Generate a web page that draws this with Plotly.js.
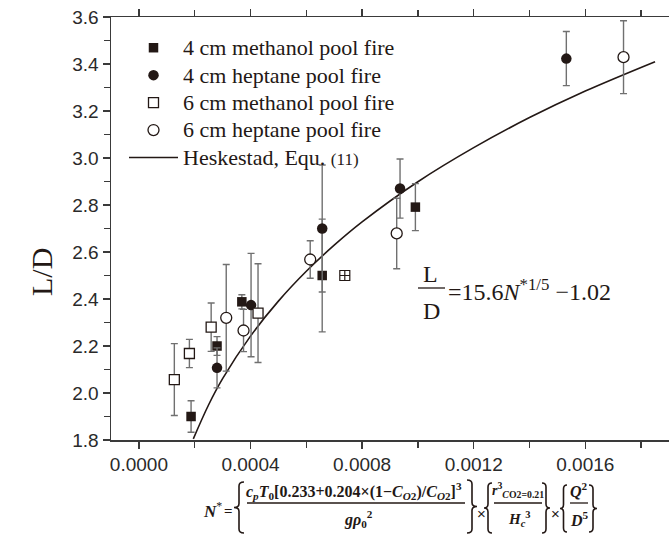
<!DOCTYPE html>
<html>
<head>
<meta charset="utf-8">
<script src="https://cdn.plot.ly/plotly-3.0.1.min.js"></script>
<style>html,body{margin:0;padding:0;background:#fff;}#chart{width:669px;height:534px;}</style>
</head>
<body>
<div id="chart"></div>
<script>
// ---- data ----
const m4X = [0.000187, 0.000280, 0.000369, 0.000657, 0.000991];
const m4Y = [1.900, 2.200, 2.388, 2.500, 2.791];
const m4E = [0.067, 0.040, 0.030, 0.240, 0.100];

const h4X = [0.000280, 0.000402, 0.000657, 0.000936, 0.001532];
const h4Y = [2.107, 2.374, 2.700, 2.870, 3.423];
const h4E = [0.085, 0.220, 0.270, 0.126, 0.115];

const m6X = [0.000127, 0.000181, 0.000259, 0.000427];
const m6Y = [2.057, 2.168, 2.280, 2.340];
const m6E = [0.153, 0.060, 0.103, 0.210];
const m6CrossX = [0.000738];
const m6CrossY = [2.500];

const h6X = [0.000313, 0.000375, 0.000614, 0.000924, 0.001737];
const h6Y = [2.320, 2.266, 2.568, 2.679, 3.429];
const h6E = [0.227, 0.090, 0.080, 0.150, 0.155];

const curveX = [0.000195, 0.00025, 0.0003, 0.0004, 0.0005, 0.0006, 0.0007, 0.0008, 0.0010, 0.0012, 0.0014, 0.0016, 0.00185];
const curveY = [1.805, 1.950, 2.061, 2.242, 2.391, 2.518, 2.629, 2.728, 2.899, 3.044, 3.172, 3.285, 3.410];

const xTickVals = [0, 0.0004, 0.0008, 0.0012, 0.0016];
const xTickText = ['0.0000', '0.0004', '0.0008', '0.0012', '0.0016'];
const yTickVals = [1.8, 2.0, 2.2, 2.4, 2.6, 2.8, 3.0, 3.2, 3.4, 3.6];
const yTickText = ['1.8', '2.0', '2.2', '2.4', '2.6', '2.8', '3.0', '3.2', '3.4', '3.6'];

const names = ['4 cm methanol pool fire', '4 cm heptane pool fire', '6 cm methanol pool fire', '6 cm heptane pool fire',
  'Heskestad, Equ. <span style="font-size:17px">(11)</span>'];

// ---- styling ----
const INK = '#231815';
const ERR = '#707070';
const L = 111, T = 17, PW = 558, PH = 423;
function PX(x) { return (x - L) / PW; }
function PY(y) { return (T + PH - y) / PH; }
function P(x, y) { return PX(x).toFixed(5) + ',' + PY(y).toFixed(5); }
function big(s) { return '<span style="font-size:22px">' + s + '</span>'; }

function errStyle(arr) {
  return {type: 'data', array: arr, visible: true, color: ERR, thickness: 1.4, width: 3.5};
}

const traces = [
  {x: curveX, y: curveY, mode: 'lines', name: big(names[4]), legendrank: 5,
   line: {color: INK, width: 1.6, shape: 'spline'}},
  {x: m4X, y: m4Y, mode: 'markers', name: big(names[0]), legendrank: 1, error_y: errStyle(m4E),
   marker: {symbol: 'square', size: 9.5, color: INK, line: {width: 0}}},
  {x: h4X, y: h4Y, mode: 'markers', name: big(names[1]), legendrank: 2, error_y: errStyle(h4E),
   marker: {symbol: 'circle', size: 10.5, color: INK, line: {width: 0}}},
  {x: m6X, y: m6Y, mode: 'markers', name: big(names[2]), legendrank: 3, legendgroup: 'm6', error_y: errStyle(m6E),
   marker: {symbol: 'square', size: 10, color: '#ffffff', line: {width: 1.3, color: INK}}},
  {x: m6CrossX, y: m6CrossY, mode: 'markers', name: names[2], legendgroup: 'm6', showlegend: false,
   marker: {symbol: 'square-cross-open', size: 10, color: INK, line: {width: 1.2, color: INK}}},
  {x: h6X, y: h6Y, mode: 'markers', name: big(names[3]), legendrank: 4, error_y: errStyle(h6E),
   marker: {symbol: 'circle', size: 11, color: '#ffffff', line: {width: 1.3, color: INK}}}
];

// ---- formula below the x axis ----
function brace(x0, x1, y0, y1, left) {
  const r = 4, xm = (x0 + x1) / 2, cy = (y0 + y1) / 2;
  const arm = left ? x1 : x0, tip = left ? x0 : x1;
  return 'M' + P(arm, y0) + ' Q' + P(xm, y0) + ' ' + P(xm, y0 + r) + ' L' + P(xm, cy - r) +
    ' Q' + P(xm, cy) + ' ' + P(tip, cy) + ' Q' + P(xm, cy) + ' ' + P(xm, cy + r) +
    ' L' + P(xm, y1 - r) + ' Q' + P(xm, y1) + ' ' + P(arm, y1);
}
function bshape(x0, x1, y0, y1, left) {
  return {type: 'path', xref: 'paper', yref: 'paper', path: brace(x0, x1, y0, y1, left),
    line: {color: INK, width: 1.6}};
}
function hline(x0, x1, y, w) {
  return {type: 'line', xref: 'paper', yref: 'paper', x0: PX(x0), x1: PX(x1), y0: PY(y), y1: PY(y),
    line: {color: INK, width: w || 1.3}};
}
function ann(text, x, y, size, xanchor, extra) {
  return Object.assign({text: text, xref: 'paper', yref: 'paper', x: PX(x), y: PY(y), showarrow: false,
    xanchor: xanchor || 'center', yanchor: 'middle',
    font: {family: 'Liberation Serif', size: size, color: INK}}, extra || {});
}

const shapes = [
  bshape(234, 244, 482, 533, true),
  bshape(467, 477, 480, 533, false),
  hline(247, 465, 503),
  bshape(484, 492, 483, 533, true),
  bshape(542, 550, 483, 533, false),
  hline(494, 542, 503),
  bshape(560, 567, 485, 532, true),
  bshape(589, 597, 485, 532, false),
  hline(570, 588, 503),
  // fraction bar of the L/D annotation
  hline(418, 445, 288, 1.3)
];

const annotations = [
  ann('<b><i>N</i></b><sup>*</sup>', 201, 510, 17, 'left'),
  ann('<b>=</b>', 228, 511, 15),
  ann('<b><i>c</i><sub><i>p</i></sub><i>T</i><sub>0</sub>[0.233+0.204×(1−<i>C</i><sub><i>O</i>2</sub>)/<i>C</i><sub><i>O</i>2</sub>]<sup>3</sup></b>', 354, 491, 16),
  ann('<b><i>gρ</i><sub>0</sub><sup>2</sup></b>', 358, 519, 16),
  ann('×', 481, 513, 15, 'center', {font: {family: 'Liberation Sans', size: 15, color: INK}}),
  ann('<b><i>r</i><sup>3</sup><sub><i>C</i>O2=0.21</sub></b>', 518, 490, 14),
  ann('<b><i>H</i><sub><i>c</i></sub><sup>3</sup></b>', 519, 519, 15),
  ann('×', 555, 513, 15, 'center', {font: {family: 'Liberation Sans', size: 15, color: INK}}),
  ann('<b><i>Q</i><sup>2</sup></b>', 579, 490, 16),
  ann('<b><i>D</i><sup>5</sup></b>', 579, 519, 16),
  // equation inside the plot
  ann('L', 430, 274, 24),
  ann('D', 431, 311, 24),
  ann('=15.6<i>N</i><sup>*1/5</sup> −1.02', 446, 290, 24, 'left'),
  // y axis title
  ann('L/D', 41, 272, 30, 'center', {textangle: -90})
];

const axisCommon = {
  showgrid: false, zeroline: false, showline: true, linecolor: '#3a3a3a', linewidth: 1.5,
  mirror: 'ticks', ticks: 'outside', ticklen: 7, tickwidth: 1.3, tickcolor: '#3a3a3a',
  tickfont: {family: 'Liberation Sans', size: 19, color: '#2a2a2a'}
};

const layout = {
  width: 669, height: 534,
  margin: {l: L, r: 0, t: T, b: 534 - T - PH, pad: 0},
  paper_bgcolor: '#ffffff', plot_bgcolor: '#ffffff',
  showlegend: true,
  legend: {x: PX(124), y: PY(29), xanchor: 'left', yanchor: 'top', bgcolor: 'rgba(0,0,0,0)',
    font: {family: 'Liberation Serif', size: 18.8, color: INK}, itemwidth: 49, tracegroupgap: 0},
  xaxis: Object.assign({}, axisCommon, {range: [-0.0001, 0.0019], tickmode: 'array',
    tickvals: xTickVals, ticktext: xTickText,
    minor: {dtick: 0.0002, tick0: 0, ticks: 'outside', ticklen: 6, tickwidth: 1.2, tickcolor: '#3a3a3a'}}),
  yaxis: Object.assign({}, axisCommon, {range: [1.8, 3.6], tickmode: 'array',
    tickvals: yTickVals, ticktext: yTickText,
    minor: {dtick: 0.1, tick0: 1.8, ticks: 'outside', ticklen: 6, tickwidth: 1.2, tickcolor: '#3a3a3a'}}),
  shapes: shapes,
  annotations: annotations
};

Plotly.newPlot('chart', traces, layout, {displayModeBar: false, staticPlot: true});
</script>
</body>
</html>
